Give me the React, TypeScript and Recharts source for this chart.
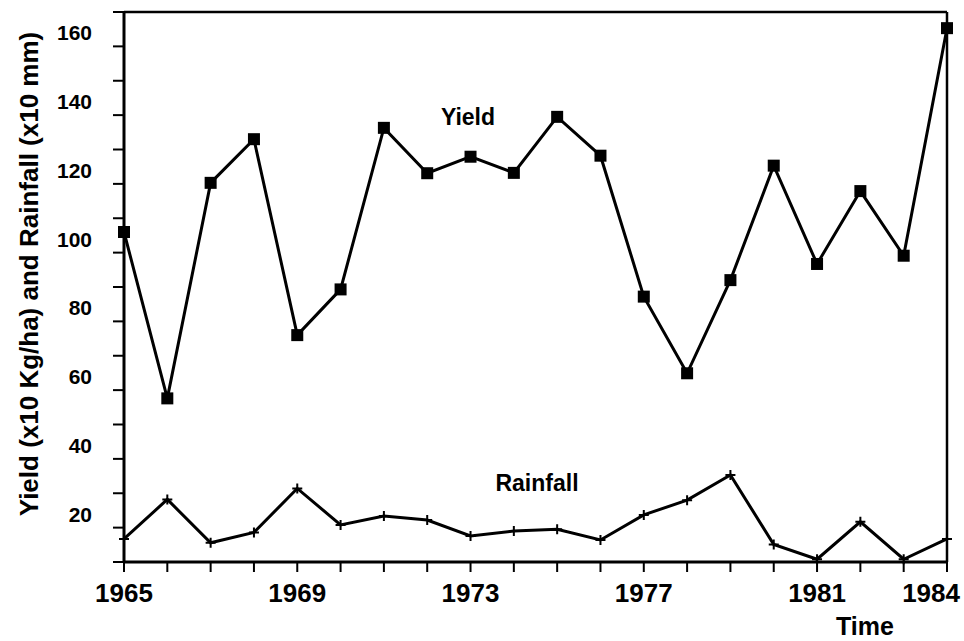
import React from "react";
import {
  LineChart,
  Line,
  XAxis,
  YAxis,
  ReferenceLine,
} from "recharts";

const years = [
  1965, 1966, 1967, 1968, 1969, 1970, 1971, 1972, 1973, 1974,
  1975, 1976, 1977, 1978, 1979, 1980, 1981, 1982, 1983, 1984,
];
const yieldValues = [
  106, 57.6, 120.3, 133, 76, 89.3, 136.3, 123.1, 127.9, 123.2,
  139.5, 128.2, 87.2, 64.9, 92, 125.3, 96.7, 117.9, 99.1, 165.3,
];
const rainfallValues = [
  16.7, 28.2, 15.6, 18.6, 31.4, 20.8, 23.4, 22.2, 17.6, 19,
  19.5, 16.4, 23.7, 28, 35.3, 15.1, 10.8, 21.7, 10.8, 16.7,
];
const xLabels = [1965, 1969, 1973, 1977, 1981, 1984];
const yTicks = [10, 20, 30, 40, 50, 60, 70, 80, 90, 100, 110, 120, 130, 140, 150, 160, 170];
const yLabels = [20, 40, 60, 80, 100, 120, 140, 160];

const data = years.map((year, i) => ({
  year,
  yield: yieldValues[i],
  rainfall: rainfallValues[i],
}));

const FONT = "'Liberation Sans', Arial, sans-serif";

const XTick = (props: any) => {
  const { x, y, payload } = props;
  if (!xLabels.includes(payload.value)) return <g />;
  // last label is pulled in so it stays inside the frame
  const last = payload.value === xLabels[xLabels.length - 1];
  return (
    <text
      x={last ? x + 13 : x}
      y={y + 28}
      textAnchor={last ? "end" : "middle"}
      fontFamily={FONT}
      fontWeight="bold"
      fontSize={26}
      fill="#000"
    >
      {payload.value}
    </text>
  );
};

const YTick = (props: any) => {
  const { x, y, payload } = props;
  if (!yLabels.includes(payload.value)) return <g />;
  return (
    <text x={x - 19} y={y - 6} textAnchor="end" fontFamily={FONT} fontWeight="bold" fontSize={21} fill="#000">
      {payload.value}
    </text>
  );
};

const SquareDot = (props: any) => {
  const { cx, cy, index } = props;
  return <rect key={`sq-${index}`} x={cx - 6} y={cy - 6} width={12} height={12} fill="#000" />;
};

const PlusDot = (props: any) => {
  const { cx, cy, index } = props;
  return (
    <path
      key={`pl-${index}`}
      d={`M${cx - 5},${cy}H${cx + 5}M${cx},${cy - 5}V${cy + 5}`}
      stroke="#000"
      strokeWidth={2}
      fill="none"
    />
  );
};

export default function App() {
  return (
    <div style={{ position: "absolute", left: 0, top: 0, background: "#fff" }}>
      <LineChart
        width={964}
        height={641}
        data={data}
        margin={{ top: 12, right: 17, bottom: 0, left: 0 }}
      >
        <XAxis
          dataKey="year"
          type="number"
          domain={[1965, 1984]}
          ticks={years}
          interval={0}
          height={79}
          tickSize={10}
          tick={<XTick />}
          axisLine={{ stroke: "#000", strokeWidth: 3 }}
          tickLine={{ stroke: "#000", strokeWidth: 2 }}
          label={{
            content: () => (
              <text x={865} y={635} textAnchor="middle" fontFamily={FONT} fontWeight="bold" fontSize={25} fill="#000">
                Time
              </text>
            ),
          }}
        />
        <YAxis
          type="number"
          domain={[10, 170]}
          ticks={yTicks}
          interval={0}
          width={124}
          tickSize={11}
          tick={<YTick />}
          axisLine={{ stroke: "#000", strokeWidth: 3 }}
          tickLine={{ stroke: "#000", strokeWidth: 2 }}
          label={{
            content: () => (
              <text
                x={29}
                y={274}
                transform="rotate(-90 29 274)"
                textAnchor="middle"
                dominantBaseline="central"
                fontFamily={FONT}
                fontWeight="bold"
                fontSize={26}
                fill="#000"
              >
                Yield (x10 Kg/ha) and Rainfall (x10 mm)
              </text>
            ),
          }}
        />
        <ReferenceLine y={170} stroke="#000" strokeWidth={2.5} />
        <ReferenceLine x={1984} stroke="#000" strokeWidth={2.5} />
        <Line
          dataKey="yield"
          stroke="#000"
          strokeWidth={3}
          dot={<SquareDot />}
          isAnimationActive={false}
        />
        <Line
          dataKey="rainfall"
          stroke="#000"
          strokeWidth={3}
          dot={<PlusDot />}
          isAnimationActive={false}
        />
        <text x={468} y={125} textAnchor="middle" fontFamily={FONT} fontWeight="bold" fontSize={23} fill="#000">
          Yield
        </text>
        <text x={537} y={491} textAnchor="middle" fontFamily={FONT} fontWeight="bold" fontSize={23} fill="#000">
          Rainfall
        </text>
      </LineChart>
    </div>
  );
}
